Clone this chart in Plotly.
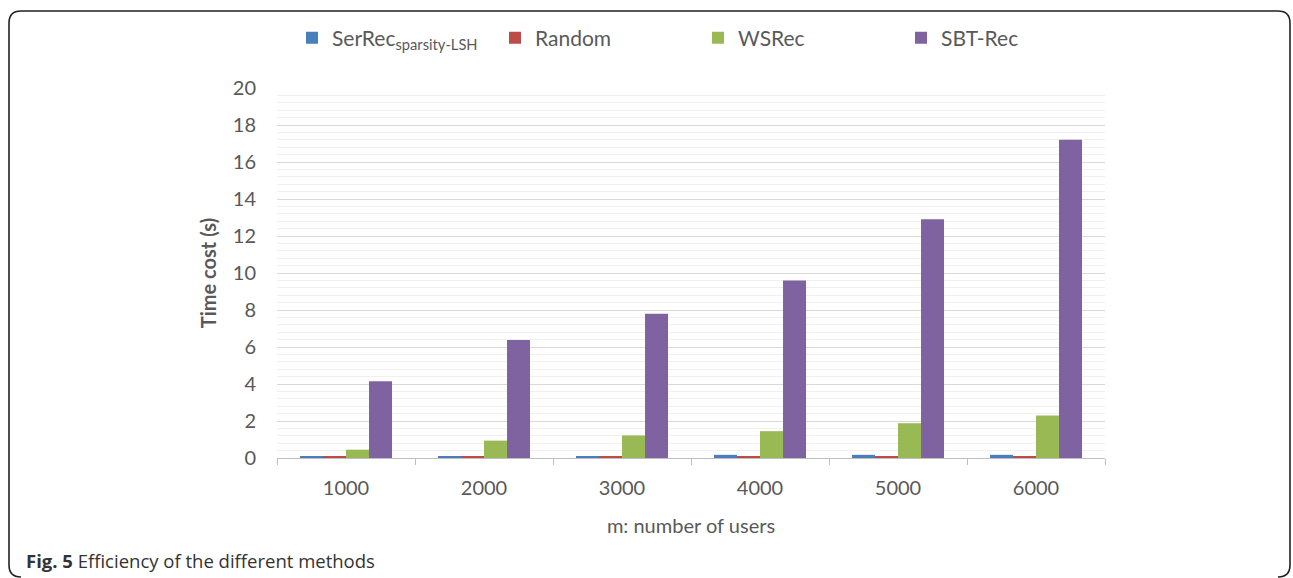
import plotly.graph_objects as go

categories = ["1000", "2000", "3000", "4000", "5000", "6000"]
serrec = [0.1, 0.1, 0.1, 0.17, 0.17, 0.17]
random_ = [0.08, 0.08, 0.08, 0.08, 0.08, 0.08]
wsrec = [0.45, 0.94, 1.22, 1.45, 1.88, 2.3]
sbtrec = [4.15, 6.38, 7.8, 9.6, 12.9, 17.2]
y_ticks = [0, 2, 4, 6, 8, 10, 12, 14, 16, 18, 20]

W, H = 1293, 578
L, R, T, B = 277, 1105, 88, 458


def px(x):
    return (x - L) / (R - L)


def py(y):
    return (B - y) / (B - T)


FONT = "Lato"
fig = go.Figure()
series = [
    ("SerRec<sub>sparsity-LSH</sub>", serrec, "#4a7ebb"),
    ("Random", random_, "#be4b48"),
    ("WSRec", wsrec, "#98b954"),
    ("SBT-Rec", sbtrec, "#7f63a1"),
]
for name, vals, col in series:
    fig.add_trace(go.Bar(x=categories, y=vals, name=name, marker_color=col,
                         marker_line_width=0))

# rounded border
r = 12
x0, x1, y0, y1 = 9, 1290, 11, 577
path = (f"M {px(x0)},{py(y1 - r)} L {px(x0)},{py(y0 + r)} "
        f"Q {px(x0)},{py(y0)} {px(x0 + r)},{py(y0)} "
        f"L {px(x1 - r)},{py(y0)} Q {px(x1)},{py(y0)} {px(x1)},{py(y0 + r)} "
        f"L {px(x1)},{py(y1 - r)} Q {px(x1)},{py(y1)} {px(x1 - r)},{py(y1)} "
        f"M {px(x0)},{py(y1 - r)} Q {px(x0)},{py(y1)} {px(x0 + r)},{py(y1)}")
fig.add_shape(type="path", path=path, xref="paper", yref="paper",
              line=dict(color="#222", width=1.6))

fig.add_annotation(text="<b>Fig. 5</b> Efficiency of the different methods",
                   x=px(24), y=py(560), xref="paper", yref="paper",
                   xanchor="left", yanchor="middle", showarrow=False,
                   font=dict(family="Open Sans", size=18.5, color="#333"))

fig.update_layout(
    width=W, height=H,
    margin=dict(l=L, r=W - R, t=T, b=H - B, autoexpand=False),
    paper_bgcolor="white", plot_bgcolor="white",
    barmode="group", bargap=0.333, bargroupgap=0,
    font=dict(family=FONT, color="#595959"),
    legend=dict(orientation="h", xref="container", yref="container",
                x=292 / W, y=1 - 38 / H, xanchor="left",
                yanchor="middle", entrywidth=158, entrywidthmode="pixels",
                font=dict(size=21, color="#595959"), itemwidth=30,
                bgcolor="rgba(0,0,0,0)", tracegroupgap=0),
    xaxis=dict(
        title=dict(text="m: number of users", font=dict(size=20, color="#595959"),
                   standoff=20),
        tickfont=dict(size=20, color="#595959"),
        showline=True, linecolor="#bfbfbf", linewidth=1,
        ticks="outside", tickson="boundaries", ticklen=6, tickcolor="#bfbfbf",
        ticklabelstandoff=12,
        showgrid=False,
    ),
    yaxis=dict(
        title=dict(text="<b>Time cost (s)</b>", font=dict(size=20, color="#595959"),
                   standoff=10),
        range=[0, 20], tickvals=y_ticks,
        tickfont=dict(size=20, color="#595959"),
        showgrid=True, gridcolor="#d9d9d9", gridwidth=1,
        minor=dict(dtick=0.4, showgrid=True, gridcolor="#f0f0f0", gridwidth=1),
        zeroline=False, showline=False, ticks="", ticklabelstandoff=20,
    ),
)
fig.write_html("out.html")
